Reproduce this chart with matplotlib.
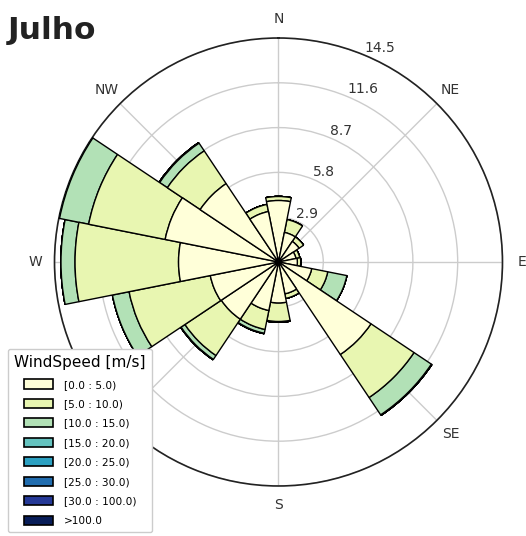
import numpy as np
import matplotlib
matplotlib.use("Agg")
import matplotlib.pyplot as plt
from matplotlib.patches import Rectangle

# Data (frequency %, per speed bin, per direction)
directions = ["N", "NNE", "NE", "ENE", "E", "ESE", "SE", "SSE",
              "S", "SSW", "SW", "WSW", "W", "WNW", "NW", "NNW"]
bin_labels = ["[0.0 : 5.0)", "[5.0 : 10.0)", "[10.0 : 15.0)", "[15.0 : 20.0)",
              "[20.0 : 25.0)", "[25.0 : 30.0)", "[30.0 : 100.0)", ">100.0"]
speed_0_5 = [3.98, 1.95, 1.60, 1.15, 1.22, 2.19, 7.20, 2.10,
             2.65, 3.20, 4.45, 4.50, 6.47, 7.48, 6.10, 3.33]
speed_5_10 = [0.26, 0.85, 0.35, 0.25, 0.22, 1.06, 3.35, 0.30,
              1.20, 1.25, 2.83, 5.36, 6.70, 5.05, 2.55, 0.47]
speed_10_15 = [0.00, 0.00, 0.00, 0.00, 0.00, 1.26, 1.35, 0.00,
               0.05, 0.25, 0.30, 1.10, 0.91, 1.92, 0.60, 0.00]
speed_15_20 = [0.00, 0.00, 0.00, 0.00, 0.00, 0.00, 0.04, 0.00,
               0.00, 0.03, 0.03, 0.00, 0.00, 0.05, 0.04, 0.00]
speed_20_25 = [0.0] * 16
speed_25_30 = [0.0] * 16
speed_30_100 = [0.0] * 16
speed_100p = [0.0] * 16

table = np.array([speed_0_5, speed_5_10, speed_10_15, speed_15_20,
                  speed_20_25, speed_25_30, speed_30_100, speed_100p])
nbins, nsector = table.shape
rmax = table.sum(axis=0).max()

cmap = plt.get_cmap("YlGnBu")
colors = [cmap(v) for v in np.linspace(0, 1, nbins)]

fig = plt.figure(figsize=(5.26, 5.36), dpi=100)
ax = fig.add_axes([0.1036, 0.0933, 0.8517, 0.8358], projection="polar")
ax.set_theta_zero_location("N")
ax.set_theta_direction(-1)

angles = np.deg2rad(np.arange(nsector) * 360.0 / nsector)
width = 2 * np.pi / nsector
bottom = np.zeros(nsector)
for i in range(nbins):
    ax.bar(angles, table[i], width=width, bottom=bottom, color=colors[i],
           edgecolor="black", linewidth=1.0, zorder=10 + nbins - i,
           align="center")
    bottom = bottom + table[i]

ax.set_ylim(0, rmax)
radii = np.linspace(0, rmax, 6)[1:]
ax.set_rgrids(radii, labels=["%.1f" % r for r in radii], angle=22.5,
              fontsize=10, color="#333333")
ax.set_thetagrids(np.arange(0, 360, 45),
                  labels=["N", "NE", "E", "SE", "S", "SW", "W", "NW"],
                  fontsize=10, color="#333333")
ax.grid(True, color="#cccccc", linewidth=1.0)
ax.spines["polar"].set_color("#222222")
ax.spines["polar"].set_linewidth(1.2)
ax.set_axisbelow(True)

handles = [Rectangle((0, 0), 0.2, 0.2, facecolor=c, edgecolor="black", linewidth=1.2)
           for c in colors]
leg = fig.legend(handles, bin_labels, title="WindSpeed [m/s]", loc="lower left",
                 bbox_to_anchor=(0.015, 0.007), borderaxespad=0.0,
                 fontsize=7.6, title_fontsize=11,
                 handlelength=2.8, handleheight=0.95, handletextpad=1.0,
                 labelspacing=0.88, borderpad=0.6, framealpha=1.0)
leg.set_zorder(100)

fig.text(0.015, 0.971, "Julho", fontsize=22.5, fontweight="bold", color="#222222",
         ha="left", va="top")

fig.savefig("out.png", dpi=100)
